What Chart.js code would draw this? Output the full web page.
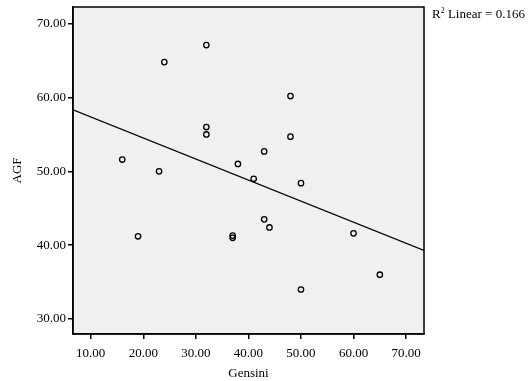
<!DOCTYPE html>
<html>
<head>
<meta charset="utf-8">
<script src="https://cdn.jsdelivr.net/npm/chart.js@4.4.1/dist/chart.umd.min.js"></script>
<style>
  html, body { margin: 0; padding: 0; background: #fff; }
  #wrap { width: 530px; height: 381px; }
</style>
</head>
<body>
<div id="wrap"><canvas id="scatterChart"></canvas></div>
<script>
// values
const gensini = [24, 32, 48, 32, 32, 48, 43, 16, 38, 23, 41, 50, 43, 44, 60, 19, 37, 37, 65, 50];
const agf = [64.8, 67.1, 60.2, 56.0, 55.0, 54.7, 52.7, 51.6, 51.0, 50.0, 49.0, 48.4, 43.5, 42.4, 41.6, 41.2, 41.3, 41.0, 36.0, 34.0];
const xTicks = [10, 20, 30, 40, 50, 60, 70];
const yTicks = [30, 40, 50, 60, 70];
const xRange = [6.63, 73.4];
const yRange = [27.97, 72.26];
const r2Text = '0.166';

const points = gensini.map((g, i) => ({ x: g, y: agf[i] }));

// least squares fit line
const mx = gensini.reduce((a, b) => a + b, 0) / gensini.length;
const my = agf.reduce((a, b) => a + b, 0) / agf.length;
let sxy = 0, sxx = 0;
gensini.forEach((g, i) => { sxy += (g - mx) * (agf[i] - my); sxx += (g - mx) * (g - mx); });
const slope = sxy / sxx;
const icpt = my - slope * mx;
const fitLine = xRange.map(x => ({ x: x, y: icpt + slope * x }));

const FONT = 'Liberation Serif, Times New Roman, serif';

const plotFrame = {
  id: 'plotFrame',
  beforeDraw(chart) {
    const { ctx, chartArea: a } = chart;
    ctx.save();
    ctx.fillStyle = '#f0f0f0';
    ctx.fillRect(a.left, a.top, a.right - a.left, a.bottom - a.top);
    ctx.restore();
  },
  afterDraw(chart) {
    const { ctx, chartArea: a } = chart;
    ctx.save();
    ctx.strokeStyle = '#000';
    ctx.lineWidth = 1.5;
    ctx.strokeRect(a.left, a.top, a.right - a.left, a.bottom - a.top);
    // R² label
    ctx.fillStyle = '#000';
    ctx.textBaseline = 'alphabetic';
    let x = a.right + 8;
    const y = 18;
    ctx.font = '13px ' + FONT;
    ctx.fillText('R', x, y);
    x += ctx.measureText('R').width;
    ctx.font = '8px ' + FONT;
    ctx.fillText('2', x, y - 5);
    x += ctx.measureText('2').width;
    ctx.font = '13px ' + FONT;
    ctx.fillText(' Linear = ' + r2Text, x, y);
    ctx.restore();
  }
};

new Chart(document.getElementById('scatterChart'), {
  type: 'scatter',
  data: {
    datasets: [
      {
        data: points,
        pointStyle: 'circle',
        pointRadius: 2.7,
        pointBorderWidth: 1.3,
        pointBorderColor: '#000',
        pointBackgroundColor: 'rgba(0,0,0,0)',
        order: 1
      },
      {
        type: 'line',
        data: fitLine,
        borderColor: '#000',
        borderWidth: 1.3,
        pointRadius: 0,
        fill: false,
        order: 2
      }
    ]
  },
  options: {
    responsive: true,
    maintainAspectRatio: false,
    animation: false,
    layout: { padding: { left: 0, right: 106, top: 7, bottom: 0 } },
    plugins: {
      legend: { display: false },
      tooltip: { enabled: false }
    },
    scales: {
      x: {
        type: 'linear',
        min: xRange[0],
        max: xRange[1],
        afterBuildTicks: s => { s.ticks = xTicks.map(v => ({ value: v })); },
        afterFit: s => { s.height = 47; s.paddingLeft = 0; s.paddingRight = 0; },
        grid: { drawOnChartArea: false, drawTicks: true, tickLength: 5, color: '#000', lineWidth: 1.5 },
        border: { display: true, color: '#000', width: 1.5 },
        ticks: {
          color: '#000',
          padding: 7,
          font: { family: FONT, size: 13 },
          callback: v => v.toFixed(2)
        },
        title: {
          display: true,
          text: 'Gensini',
          color: '#000',
          font: { family: FONT, size: 13 },
          padding: { top: 0, bottom: 0 }
        }
      },
      y: {
        type: 'linear',
        min: yRange[0],
        max: yRange[1],
        afterBuildTicks: s => { s.ticks = yTicks.map(v => ({ value: v })); },
        afterFit: s => { s.width = 73; s.paddingTop = 0; s.paddingBottom = 0; },
        grid: { drawOnChartArea: false, drawTicks: true, tickLength: 5, color: '#000', lineWidth: 1.5 },
        border: { display: true, color: '#000', width: 1.5 },
        ticks: {
          color: '#000',
          padding: 2,
          font: { family: FONT, size: 13 },
          callback: v => v.toFixed(2)
        },
        title: {
          display: true,
          text: 'AGF',
          color: '#000',
          font: { family: FONT, size: 13 },
          padding: { top: 10, bottom: 0 }
        }
      }
    }
  },
  plugins: [plotFrame]
});
</script>
</body>
</html>
